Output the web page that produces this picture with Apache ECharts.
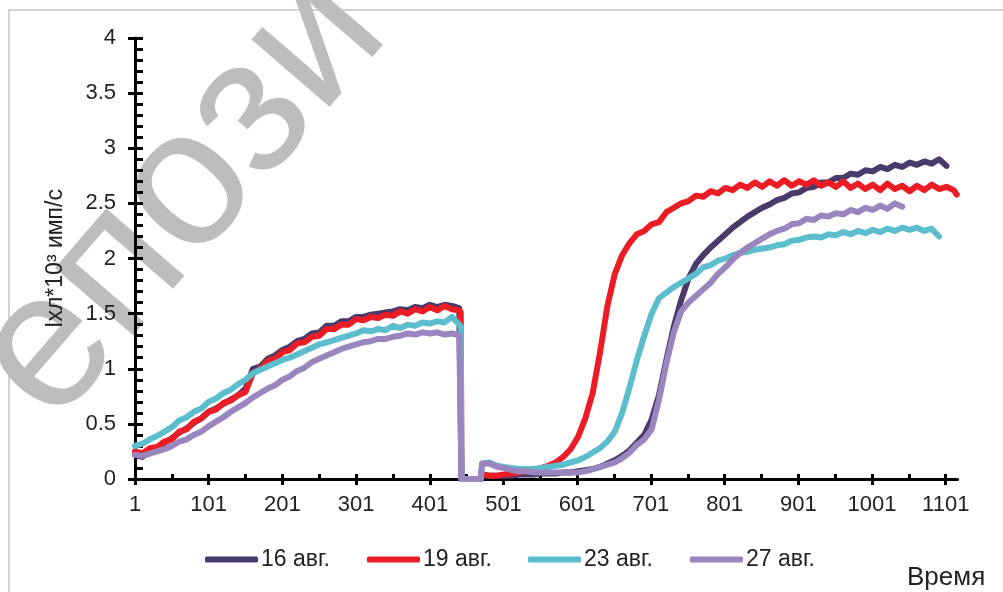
<!DOCTYPE html>
<html><head><meta charset="utf-8">
<script src="https://cdn.jsdelivr.net/npm/echarts@6/dist/echarts.min.js"></script>
<style>html,body{margin:0;padding:0;background:#fff}#c{width:1003px;height:592px}</style>
</head><body><div id="c"></div>
<script>
const xs = [1,11,21,31,41,51,61,71,81,91,101,111,121,131,141,151,161,171,181,191,201,211,221,231,241,251,261,271,281,291,301,311,321,331,341,351,361,371,381,391,401,411,421,431,441,443,444,470,472,482,492,502,512,522,532,542,552,562,572,582,592,602,612,622,632,642,652,662,672,682,692,702,712,722,732,742,752,762,772,782,792,802,812,822,832,842,852,862,872,882,892,902,912,922,932,942,952,962,972,982,992,1002,1012,1022,1032,1042,1052,1062,1072,1082,1092,1102,1112,1116];

const s16 = [.22,.20,.25,.28,.33,.37,.42,.46,.51,.55, .61,.64,.68,.72,.76,.82,1.00,1.02,1.09,1.12, 1.17,1.20,1.25,1.27,1.32,1.33,1.39,1.39,1.43,1.43, 1.47,1.47,1.49,1.50,1.51,1.52,1.54,1.53,1.56,1.55, 1.58,1.56,1.58,1.57,1.55,
 1.55,0,0,
 .04,.03,.03,.03,.03,.04,.04,.04,.05,.05, .05,.06,.06,.07,.08,.09,.11,.14,.17,.21, .26,.33,.40,.54,.76,1.08,1.38,1.62,1.82,1.95, 2.03,2.10,2.16,2.22,2.28,2.33,2.38,2.42,2.46,2.49, 2.53,2.55,2.59,2.60,2.64,2.65,2.69,2.69,2.73,2.73, 2.77,2.76,2.80,2.79,2.83,2.81,2.85,2.83,2.87,2.85, 2.88,2.86,2.90,2.84,null, null];

const s19 = [.25,.23,.28,.29,.34,.36,.43,.45,.52,.55, .61,.63,.69,.71,.76,.79,.96,1.00,1.07,1.09, 1.15,1.17,1.23,1.24,1.29,1.30,1.36,1.36,1.40,1.40, 1.45,1.44,1.47,1.46,1.49,1.48,1.52,1.50,1.54,1.52, 1.56,1.53,1.57,1.54,1.53,
 1.51,0,0,
 .04,.03,.03,.04,.05,.06,.07,.08,.10,.12, .15,.20,.27,.38,.55,.78,1.15,1.57,1.86,2.03, 2.14,2.22,2.25,2.31,2.33,2.42,2.46,2.50,2.52,2.57, 2.56,2.61,2.59,2.64,2.62,2.67,2.64,2.69,2.65,2.70, 2.66,2.71,2.66,2.70,2.67,2.71,2.66,2.69,2.65,2.70, 2.64,2.68,2.63,2.67,2.62,2.68,2.63,2.66,2.61,2.66, 2.62,2.67,2.63,2.65,2.62, 2.58];

const s23 = [.30,.32,.36,.39,.43,.47,.53,.56,.61,.64, .70,.73,.78,.81,.86,.90,.96,.99,1.02,1.05, 1.08,1.10,1.13,1.16,1.19,1.22,1.24,1.26,1.28,1.30, 1.32,1.35,1.34,1.36,1.35,1.39,1.37,1.40,1.39,1.42, 1.41,1.43,1.42,1.47,1.40,
 1.38,0,0,
 .14,.15,.12,.11,.10,.09,.09,.09,.10,.11, .12,.13,.15,.17,.20,.24,.28,.34,.43,.60, .83,1.08,1.30,1.50,1.64,1.69,1.74,1.78,1.82,1.86, 1.92,1.94,1.98,2.00,2.03,2.05,2.06,2.08,2.09,2.10, 2.12,2.13,2.16,2.17,2.19,2.20,2.19,2.22,2.21,2.24, 2.22,2.25,2.23,2.26,2.24,2.27,2.25,2.28,2.26,2.28, 2.25,2.27,2.20,null,null, null];

const s27 = [.22,.21,.23,.25,.27,.30,.34,.36,.40,.43, .48,.52,.56,.61,.65,.69,.74,.78,.82,.85, .90,.93,.98,1.01,1.06,1.09,1.12,1.15,1.18,1.20, 1.22,1.24,1.25,1.27,1.27,1.29,1.30,1.32,1.31,1.33, 1.32,1.33,1.31,1.32,1.30,
 1.30,0,0,
 .14,.14,.11,.10,.08,.07,.07,.06,.06,.06, .06,.06,.06,.06,.07,.09,.11,.13,.15,.19, .24,.31,.36,.45,.72,1.05,1.33,1.52,1.60,1.66, 1.72,1.78,1.86,1.92,1.99,2.05,2.10,2.14,2.18,2.22, 2.25,2.27,2.31,2.32,2.36,2.35,2.39,2.38,2.41,2.40, 2.44,2.42,2.46,2.44,2.48,2.45,2.50,2.47,null,null, null,null,null,null,null, null];

const seriesNames = ['16 авг.','19 авг.','23 авг.','27 авг.'];
const seriesValues = [s16, s19, s23, s27];
const colors = ['#4a3a6b','#ec1c24','#5cbdcd','#9a85bf'];
const xMajor = [1,101,201,301,401,501,601,701,801,901,1001,1101];
const xMinor = [1,51,101,151,201,251,301,351,401,451,501,551,601,651,701,751,801,851,901,951,1001,1051,1101];
const yMajor = [0,0.5,1,1.5,2,2.5,3,3.5,4];
const yMinor = [0,0.1,0.2,0.3,0.4,0.5,0.6,0.7,0.8,0.9,1,1.1,1.2,1.3,1.4,1.5,1.6,1.7,1.8,1.9,2,2.1,2.2,2.3,2.4,2.5,2.6,2.7,2.8,2.9,3,3.1,3.2,3.3,3.4,3.5,3.6,3.7,3.8,3.9,4];
const yName = 'Iхл*10³ имп/с';
const xName = 'Время';
const watermark = 'епози';

const FONT = '"Liberation Sans", Arial, sans-serif';
const chart = echarts.init(document.getElementById('c'), null, {renderer:'canvas'});
const legendLeft = [205, 367, 528, 690];

const option = {
  animation: false,
  backgroundColor: '#fff',
  textStyle: {fontFamily: FONT},
  grid: {left: 135, top: 38, width: 822.5, height: 441, containLabel: false},
  xAxis: [
    {type:'value', min:1, max:1117, position:'bottom',
     axisLine:{show:true, onZero:false, lineStyle:{color:'#000', width:3}},
     axisTick:{show:true, customValues:xMajor, length:6, lineStyle:{color:'#000', width:3}},
     axisLabel:{customValues:xMajor, formatter:(v)=>String(v), fontSize:22, color:'#222', margin:15, fontFamily:FONT},
     splitLine:{show:false}},
    {type:'value', min:1, max:1117, position:'bottom',
     axisLine:{show:false, onZero:false},
     axisTick:{show:true, inside:true, customValues:xMinor, length:5, lineStyle:{color:'#000', width:3}},
     axisLabel:{show:false}, splitLine:{show:false}}
  ],
  yAxis: [
    {type:'value', min:0, max:4, position:'left',
     name: yName, nameLocation:'middle', nameGap:68, nameRotate:90,
     nameTextStyle:{fontSize:23, color:'#222', fontFamily:FONT},
     axisLine:{show:true, onZero:false, lineStyle:{color:'#000', width:3}},
     axisTick:{show:true, customValues:yMajor, length:7, lineStyle:{color:'#000', width:3}},
     axisLabel:{customValues:yMajor, formatter:(v)=>String(v), fontSize:22, color:'#222', margin:19, fontFamily:FONT},
     splitLine:{show:false}},
    {type:'value', min:0, max:4, position:'left',
     axisLine:{show:false, onZero:false},
     axisTick:{show:true, inside:true, customValues:yMinor, length:8, lineStyle:{color:'#000', width:3}},
     axisLabel:{show:false}, splitLine:{show:false}}
  ],
  legend: seriesNames.map((n,i)=>({
    data:[n], left:legendLeft[i], top:548, padding:0, icon:'roundRect', itemWidth:53, itemHeight:6,
    textStyle:{fontSize:23, color:'#222', fontFamily:FONT, padding:[0,0,0,-2]}, selectedMode:false
  })),
  graphic: [
    {type:'rect', z:-20, shape:{x:9, y:10, width:1100, height:700}, style:{fill:'none', stroke:'#d2d2d2', lineWidth:2}},
    {type:'text', z:-10, x:182, y:196, rotation:0.86,
     style:{text:watermark, fill:'#bdbdbd', font:'195px ' + FONT, align:'center', verticalAlign:'middle'}},
    {type:'text', z:5, x:907, y:565,
     style:{text:xName, fill:'#222', font:'26px ' + FONT, align:'left', verticalAlign:'top'}}
  ],
  series: seriesNames.map((n,i)=>({
    name:n, type:'line', xAxisIndex:0, yAxisIndex:0, showSymbol:false, symbol:'none',
    clip:false, color:colors[i],
    lineStyle:{color:colors[i], width:6, cap:'round', join:'round'},
    data: xs.map((x,k)=>[x, seriesValues[i][k]]).filter(p=>p[1]!==null)
  }))
};
chart.setOption(option);
</script></body></html>
